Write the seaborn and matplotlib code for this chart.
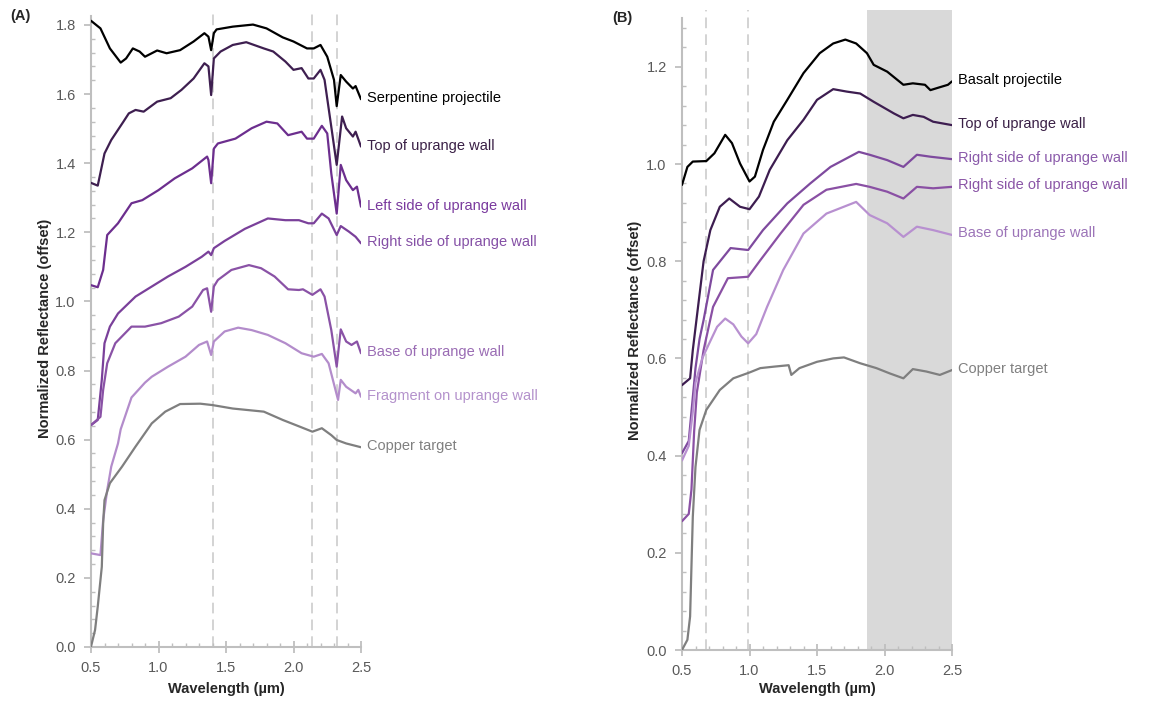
import numpy as np
import pandas as pd
import matplotlib
matplotlib.use("Agg")
import matplotlib.pyplot as plt
from matplotlib.ticker import MultipleLocator, FixedLocator
import seaborn as sns

# ---- Panel A: serpentine shot, spectra ----
serp_w = [0.50, 0.57, 0.64, 0.72, 0.76, 0.81, 0.86, 0.90, 0.99, 1.06, 1.16, 1.26, 1.34, 1.37, 1.39, 1.41, 1.43,
          1.55, 1.70, 1.80, 1.92, 2.00, 2.10, 2.15, 2.20, 2.25, 2.30, 2.32, 2.35, 2.39, 2.44, 2.46, 2.50]
serp_v = [1.812, 1.790, 1.732, 1.691, 1.703, 1.732, 1.723, 1.708, 1.726, 1.718, 1.727, 1.752, 1.776, 1.766, 1.727,
          1.776, 1.787, 1.795, 1.801, 1.790, 1.764, 1.752, 1.732, 1.732, 1.742, 1.708, 1.641, 1.565, 1.655, 1.636,
          1.616, 1.623, 1.585]

top_w = [0.50, 0.55, 0.60, 0.65, 0.74, 0.78, 0.83, 0.89, 0.99, 1.09, 1.17, 1.26, 1.34, 1.37, 1.39, 1.41, 1.46,
         1.55, 1.65, 1.78, 1.85, 1.94, 2.00, 2.06, 2.11, 2.15, 2.20, 2.23, 2.28, 2.32, 2.36, 2.39, 2.44, 2.46, 2.50]
top_v = [1.343, 1.335, 1.428, 1.467, 1.520, 1.544, 1.554, 1.549, 1.578, 1.588, 1.612, 1.645, 1.689, 1.680, 1.597,
         1.703, 1.723, 1.742, 1.750, 1.732, 1.723, 1.694, 1.670, 1.675, 1.645, 1.645, 1.670, 1.641, 1.505, 1.395,
         1.535, 1.501, 1.477, 1.491, 1.448]

left_w = [0.50, 0.55, 0.59, 0.60, 0.62, 0.70, 0.80, 0.88, 1.00, 1.12, 1.25, 1.36, 1.37, 1.39, 1.41, 1.44, 1.57,
          1.69, 1.80, 1.88, 1.96, 2.01, 2.06, 2.10, 2.15, 2.21, 2.25, 2.28, 2.32, 2.35, 2.39, 2.44, 2.47, 2.50]
left_v = [1.047, 1.041, 1.091, 1.125, 1.192, 1.226, 1.284, 1.293, 1.322, 1.356, 1.385, 1.419, 1.409, 1.342, 1.442,
          1.457, 1.471, 1.501, 1.520, 1.515, 1.481, 1.486, 1.491, 1.471, 1.471, 1.508, 1.486, 1.370, 1.254, 1.395,
          1.351, 1.322, 1.332, 1.274]

right_w = [0.50, 0.55, 0.58, 0.60, 0.64, 0.70, 0.83, 0.95, 1.07, 1.20, 1.32, 1.37, 1.39, 1.41, 1.49, 1.64, 1.81,
           1.94, 2.04, 2.11, 2.15, 2.21, 2.26, 2.32, 2.35, 2.41, 2.46, 2.50]
right_v = [0.642, 0.657, 0.773, 0.879, 0.927, 0.965, 1.014, 1.043, 1.072, 1.100, 1.129, 1.144, 1.134, 1.154, 1.175,
           1.210, 1.240, 1.235, 1.235, 1.226, 1.226, 1.254, 1.240, 1.192, 1.218, 1.202, 1.187, 1.168]

base_w = [0.50, 0.57, 0.59, 0.62, 0.68, 0.80, 0.90, 1.02, 1.15, 1.25, 1.33, 1.36, 1.39, 1.41, 1.44, 1.54, 1.67,
          1.76, 1.86, 1.96, 2.04, 2.07, 2.14, 2.20, 2.23, 2.28, 2.32, 2.35, 2.39, 2.43, 2.47, 2.50]
base_v = [0.642, 0.666, 0.744, 0.821, 0.879, 0.927, 0.927, 0.937, 0.956, 0.985, 1.033, 1.038, 0.970, 1.043, 1.062,
          1.091, 1.105, 1.096, 1.072, 1.035, 1.033, 1.035, 1.019, 1.035, 1.014, 0.917, 0.811, 0.919, 0.884, 0.874,
          0.884, 0.850]

frag_w = [0.50, 0.57, 0.59, 0.62, 0.65, 0.70, 0.72, 0.80, 0.90, 0.95, 1.07, 1.20, 1.30, 1.36, 1.39, 1.41, 1.49,
          1.59, 1.69, 1.81, 1.94, 2.06, 2.15, 2.21, 2.26, 2.33, 2.35, 2.39, 2.46, 2.48, 2.50]
frag_v = [0.271, 0.266, 0.367, 0.454, 0.522, 0.589, 0.630, 0.722, 0.765, 0.782, 0.811, 0.840, 0.874, 0.884, 0.845,
          0.884, 0.913, 0.924, 0.917, 0.903, 0.879, 0.850, 0.840, 0.848, 0.821, 0.715, 0.773, 0.753, 0.734, 0.744,
          0.724]

copper_w = [0.50, 0.53, 0.55, 0.58, 0.59, 0.60, 0.64, 0.73, 0.83, 0.95, 1.05, 1.16, 1.31, 1.40, 1.55, 1.78, 1.92,
            2.05, 2.14, 2.21, 2.28, 2.32, 2.39, 2.50]
copper_v = [0.001, 0.049, 0.117, 0.232, 0.358, 0.425, 0.474, 0.522, 0.580, 0.647, 0.681, 0.703, 0.704, 0.700,
            0.690, 0.681, 0.657, 0.637, 0.623, 0.633, 0.613, 0.599, 0.589, 0.578]

# ---- Panel B: basalt shot ----
basalt_w = [0.50, 0.54, 0.58, 0.68, 0.74, 0.82, 0.87, 0.93, 1.00, 1.04, 1.10, 1.18, 1.28, 1.40, 1.52, 1.62, 1.71,
            1.79, 1.87, 1.92, 2.02, 2.14, 2.21, 2.30, 2.34, 2.41, 2.47, 2.50]
basalt_v = [0.957, 0.994, 1.005, 1.006, 1.022, 1.060, 1.043, 1.001, 0.964, 0.974, 1.029, 1.087, 1.132, 1.187,
            1.228, 1.248, 1.256, 1.248, 1.228, 1.204, 1.190, 1.163, 1.166, 1.163, 1.152, 1.158, 1.163, 1.170]

topB_w = [0.50, 0.56, 0.58, 0.61, 0.66, 0.71, 0.78, 0.85, 0.93, 1.00, 1.07, 1.15, 1.28, 1.40, 1.50, 1.62, 1.72,
          1.82, 1.92, 2.07, 2.14, 2.21, 2.29, 2.36, 2.50]
topB_v = [0.545, 0.559, 0.617, 0.686, 0.800, 0.864, 0.912, 0.929, 0.912, 0.907, 0.933, 0.988, 1.049, 1.091, 1.132,
          1.154, 1.149, 1.145, 1.128, 1.104, 1.094, 1.101, 1.097, 1.087, 1.080]

right1B_w = [0.50, 0.55, 0.58, 0.60, 0.63, 0.66, 0.73, 0.86, 0.99, 1.10, 1.28, 1.45, 1.60, 1.81, 1.89, 2.02, 2.14,
             2.24, 2.34, 2.50]
right1B_v = [0.405, 0.430, 0.520, 0.580, 0.640, 0.679, 0.782, 0.827, 0.823, 0.864, 0.919, 0.960, 0.994, 1.025,
             1.019, 1.008, 0.994, 1.019, 1.015, 1.010]

right2B_w = [0.50, 0.55, 0.57, 0.59, 0.61, 0.66, 0.73, 0.84, 0.99, 1.08, 1.23, 1.40, 1.57, 1.79, 1.89, 2.02, 2.14,
             2.24, 2.36, 2.50]
right2B_v = [0.265, 0.280, 0.330, 0.450, 0.530, 0.617, 0.706, 0.765, 0.768, 0.802, 0.857, 0.916, 0.947, 0.959,
             0.953, 0.943, 0.929, 0.953, 0.950, 0.953]

baseB_w = [0.50, 0.55, 0.58, 0.60, 0.65, 0.70, 0.76, 0.82, 0.88, 0.94, 0.99, 1.05, 1.13, 1.25, 1.40, 1.57, 1.79,
           1.89, 2.02, 2.14, 2.24, 2.36, 2.50]
baseB_v = [0.390, 0.420, 0.490, 0.550, 0.600, 0.630, 0.665, 0.682, 0.670, 0.645, 0.631, 0.650, 0.706, 0.782, 0.857,
           0.898, 0.922, 0.895, 0.878, 0.850, 0.871, 0.864, 0.854]

copperB_w = [0.50, 0.54, 0.56, 0.58, 0.60, 0.63, 0.68, 0.78, 0.88, 1.00, 1.08, 1.18, 1.29, 1.31, 1.37, 1.50, 1.62,
             1.70, 1.82, 1.94, 2.04, 2.14, 2.21, 2.31, 2.41, 2.50]
copperB_v = [0.000, 0.021, 0.069, 0.274, 0.377, 0.453, 0.494, 0.535, 0.559, 0.571, 0.580, 0.583, 0.586, 0.566,
             0.580, 0.593, 0.600, 0.602, 0.590, 0.580, 0.569, 0.559, 0.578, 0.573, 0.566, 0.576]

labels_a = ["Serpentine projectile", "Top of uprange wall", "Left side of uprange wall",
            "Right side of uprange wall", "Base of uprange wall", "Fragment on uprange wall", "Copper target"]
labels_b = ["Basalt projectile", "Top of uprange wall", "Right side of uprange wall",
            "Right side of uprange wall", "Base of uprange wall", "Copper target"]

lines_a = ["#000000", "#3e1f50", "#6c2e8e", "#7a409a", "#8a52a6", "#b38ccb", "#7f7f7f"]
text_a = ["#000000", "#3a2046", "#7a3a9e", "#8550a6", "#9a6cb4", "#b492cc", "#808080"]
lines_b = ["#000000", "#3d1d50", "#7e4a9e", "#8a50a4", "#b890d0", "#7f7f7f"]
text_b = ["#000000", "#3a2046", "#8a5aaa", "#8a55a6", "#9c74b8", "#808080"]

sns.set_style("white")
plt.rcParams["font.family"] = ["Liberation Sans", "DejaVu Sans"]

fig = plt.figure(figsize=(11.66, 7.04), dpi=100)
ax_a = fig.add_axes([91 / 1166, 1 - 647 / 704, 270 / 1166, 638 / 704])
ax_b = fig.add_axes([682 / 1166, 1 - 650 / 704, 270 / 1166, 640 / 704])

spine_c = "#bfbfbf"
tick_c = "#595959"


def style_axes(ax, ytop, ymax, vlines, xlab_y, ylab_x):
    ax.set_xlim(0.5, 2.5)
    ax.set_ylim(0, ytop)
    for v in vlines:
        ax.axvline(v, color="#c8c8c8", lw=1.1, ls=(0, (7, 4)), zorder=0)
    for s in ["top", "right"]:
        ax.spines[s].set_visible(False)
    for s in ["left", "bottom"]:
        ax.spines[s].set_color(spine_c)
        ax.spines[s].set_linewidth(1.5)
    ax.spines["left"].set_bounds(0, ymax)
    ax.xaxis.set_major_locator(MultipleLocator(0.5))
    ax.xaxis.set_minor_locator(MultipleLocator(0.1))
    ax.yaxis.set_major_locator(FixedLocator(np.arange(0, ymax + 0.001, 0.2)))
    ax.yaxis.set_minor_locator(FixedLocator(np.arange(0, ymax + 0.001, 0.04)))
    ax.xaxis.set_major_formatter(matplotlib.ticker.FormatStrFormatter("%.1f"))
    ax.yaxis.set_major_formatter(matplotlib.ticker.FormatStrFormatter("%.1f"))
    ax.tick_params(axis="both", which="major", colors=spine_c, labelcolor=tick_c, labelsize=10.5, width=1.3)
    ax.tick_params(axis="y", which="major", direction="out", length=5, pad=6)
    ax.tick_params(axis="x", which="major", direction="inout", length=8, pad=6)
    ax.tick_params(axis="both", which="minor", colors=spine_c, direction="in", length=3, width=1.0)
    ax.tick_params(left=True, bottom=True, which="both")
    ax.set_xlabel("Wavelength (\u00b5m)", fontsize=10.5, fontweight="bold")
    ax.set_ylabel("Normalized Reflectance (offset)", fontsize=10.5, fontweight="bold")
    ax.xaxis.set_label_coords(0.5, xlab_y)
    ax.yaxis.set_label_coords(ylab_x, 0.5)


style_axes(ax_a, 638 / 345.6, 1.825, [1.40, 2.14, 2.32], -(682 - 647) / 638, -(91 - 52) / 270)
style_axes(ax_b, 640 / 486.0, 1.30, [0.68, 0.99], -(682 - 650) / 640, -(682 - 642) / 270)
ax_b.axvspan(1.87, 2.5, color="#d9d9d9", lw=0, zorder=0)

series_a = [(serp_w, serp_v), (top_w, top_v), (left_w, left_v), (right_w, right_v),
            (base_w, base_v), (frag_w, frag_v), (copper_w, copper_v)]
series_b = [(basalt_w, basalt_v), (topB_w, topB_v), (right1B_w, right1B_v),
            (right2B_w, right2B_v), (baseB_w, baseB_v), (copperB_w, copperB_v)]

for ax, series, labels, lc, tc in [(ax_a, series_a, labels_a, lines_a, text_a),
                                   (ax_b, series_b, labels_b, lines_b, text_b)]:
    for (w, v), lab, c, t in zip(series, labels, lc, tc):
        df = pd.DataFrame({"wavelength": w, "reflectance": v})
        sns.lineplot(data=df, x="wavelength", y="reflectance", ax=ax, color=c, lw=1.6,
                     estimator=None, sort=False, zorder=3)
        ax.text(2.545, v[-1] + 0.003, lab, color=t, fontsize=10.5, va="center", ha="left", clip_on=False)
    ax.set_xlabel("Wavelength (\u00b5m)", fontsize=10.5, fontweight="bold")
    ax.set_ylabel("Normalized Reflectance (offset)", fontsize=10.5, fontweight="bold")

fig.text(10 / 1166, 1 - 16 / 704, "(A)", fontsize=10.5, fontweight="bold", va="center", ha="left")
fig.text(612 / 1166, 1 - 18 / 704, "(B)", fontsize=10.5, fontweight="bold", va="center", ha="left")

fig.savefig("out.png", dpi=100)
